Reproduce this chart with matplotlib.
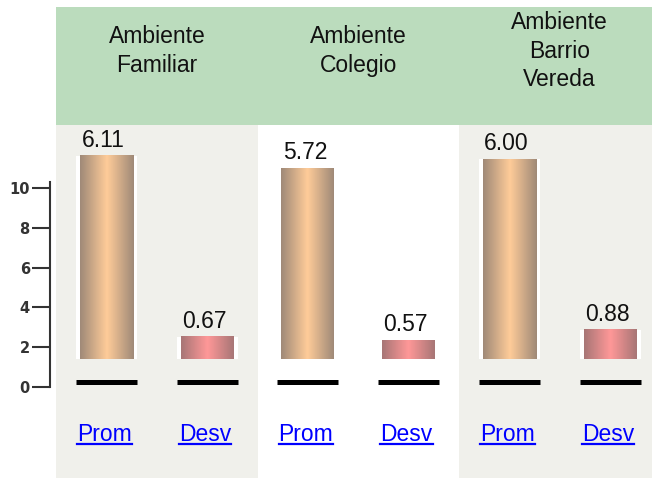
import numpy as np
import matplotlib
matplotlib.use("Agg")
import matplotlib.pyplot as plt
from matplotlib.colors import LinearSegmentedColormap
from matplotlib.lines import Line2D

# data
groups = ["Ambiente\nFamiliar", "Ambiente\nColegio", "Ambiente\nBarrio\nVereda"]
series = ["Prom", "Desv"]
prom = [6.11, 5.72, 6.00]
desv = [0.67, 0.57, 0.88]
ruler_ticks = [0, 2, 4, 6, 8, 10]

plt.rcParams['font.family'] = ['Liberation Sans', 'DejaVu Sans']

W, H = 652, 478
fig = plt.figure(figsize=(W / 100, H / 100), dpi=100)
fig.patch.set_facecolor("white")

# main axes covers the figure; y is in value units
px_per_unit = 33.3
base_px = 359            # pixel row (from top) of value 0
step_px = 100.7
first_px = 106.5
ax = fig.add_axes([0, 0, 1, 1])
ax.set_axis_off()
xlim = (-first_px / step_px, (W - first_px) / step_px)
ylim = (-(H - base_px) / px_per_unit, base_px / px_per_unit)

green = "#bbdcbd"
gray = "#f0f0eb"
header_bottom = 1 - 125 / H
header_top = 1 - 7 / H
fs = 16.5

# column backgrounds + header
for i in range(len(groups)):
    left = 2 * i - 0.5
    right = 2 * i + 1.5 if i < len(groups) - 1 else xlim[1]
    if i != 1:
        ax.axvspan(left, right, 0, header_bottom, color=gray, lw=0, zorder=0)
ax.axvspan(-0.5, xlim[1], header_bottom, header_top, color=green, lw=0, zorder=0)

trans = ax.get_xaxis_transform()
for i, g in enumerate(groups):
    ax.text(2 * i + 0.5, 1 - 51 / H, g, transform=trans, ha="center", va="center",
            fontsize=fs, color="#111111", linespacing=1.32, multialignment="center")

cmaps = {
    "Prom": LinearSegmentedColormap.from_list("p", ["#a08a78", "#ffcc99", "#a08a78"]),
    "Desv": LinearSegmentedColormap.from_list("d", ["#a87676", "#ff9898", "#a87676"]),
}
outer_w = 61 / step_px
inner_w = 53 / step_px
grad = np.linspace(0, 1, 64).reshape(1, -1)

xs = []
labels = []
for i in range(len(groups)):
    for j, (name, vals) in enumerate([("Prom", prom), ("Desv", desv)]):
        x = 2 * i + j
        v = vals[i]
        xs.append(x)
        labels.append(name)
        ax.bar(x, v, width=outer_w, color="white", lw=0, zorder=2)
        ax.imshow(grad, extent=(x - inner_w / 2, x + inner_w / 2, 0, v), aspect="auto",
                  cmap=cmaps[name], interpolation="bilinear", zorder=3)
        ax.annotate(f"{v:.2f}", (x, v), xytext=(-2, 6.5), textcoords="offset points",
                    ha="center", va="baseline", fontsize=fs, color="#111111")

# black base lines under each bar
line_y = -(382 - base_px) / px_per_unit
for x in xs:
    ax.hlines(line_y, x - outer_w / 2, x + outer_w / 2, color="black", lw=3.6, zorder=2)

ax.set_xlim(*xlim)
ax.set_ylim(*ylim)

# link-style labels
link_texts = []
for x, lab in zip(xs, labels):
    t = ax.text(x - 0.02, 1 - 441 / H, lab, transform=trans, ha="center", va="baseline",
                fontsize=fs, color="#0000ff")
    link_texts.append(t)

fig.canvas.draw()
renderer = fig.canvas.get_renderer()
for t in link_texts:
    bb = t.get_window_extent(renderer)
    y = (H - 444) / H
    fig.add_artist(Line2D([bb.x0 / W, bb.x1 / W], [y, y], color="#0000ff", lw=1.6,
                          transform=fig.transFigure))

# ruler on the left
rax = fig.add_axes([50 / W, (H - 387) / H, 0.0015, 205 / H])
rax.set_facecolor("none")
rax.set_ylim(0, 10.3)
rax.set_yticks(ruler_ticks)
rax.set_xticks([])
for s in ["top", "right", "bottom"]:
    rax.spines[s].set_visible(False)
rax.spines["left"].set_color("#333333")
rax.spines["left"].set_linewidth(1.5)
rax.tick_params(axis="y", length=13, width=1.5, color="#333333", pad=1.5,
                labelsize=10.5, labelcolor="#333333")
for lbl in rax.get_yticklabels():
    lbl.set_fontfamily("DejaVu Sans")
    lbl.set_fontweight("bold")

fig.savefig("out.png", dpi=100)
